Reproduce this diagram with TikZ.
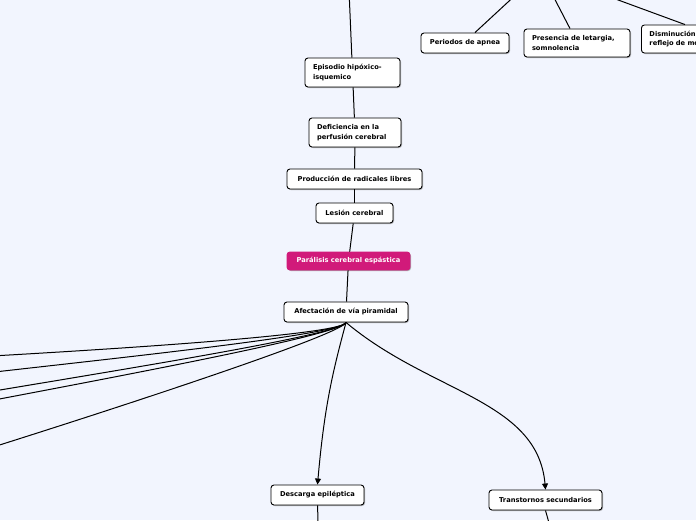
\documentclass[tikz,border=0pt]{standalone}
\usepackage{fontspec}
\setmainfont{DejaVu Sans}
\usetikzlibrary{positioning, shadows, arrows.meta}
\definecolor{fondo}{RGB}{242,245,254}
\definecolor{rosa}{RGB}{209,26,122}

\begin{document}
\begin{tikzpicture}[
  x=1pt, y=1pt,
  idea/.style={draw=black, line width=0.9pt, fill=white, rounded corners=3pt,
    font=\fontsize{6.7}{9.5}\selectfont\bfseries, align=left,
    inner xsep=8pt, inner ysep=0pt, minimum height=20pt,
    drop shadow={shadow xshift=1pt, shadow yshift=-1pt, fill=black!60, opacity=.5}},
  central/.style={idea, draw=rosa, fill=rosa, text=white, minimum height=18pt},
  rama/.style={line width=1pt},
  flecha/.style={rama, -{Triangle[length=6pt, width=6pt]}}
]
\useasboundingbox (0,0) rectangle (696,-520);
\fill[fondo] (0,0) rectangle (696,-520);
\clip (0,0) rectangle (696,-520);

% Cadena central
\node[idea, text width=79pt, minimum height=29pt] (episodio) at (352.5,-72.5) {Episodio hipóxico-\\isquemico};
\node[idea, text width=76pt, minimum height=29pt] (deficiencia) at (355,-132.5) {Deficiencia en la\\perfusión cerebral};
\node[idea, minimum width=135pt] (radicales) at (354.5,-179) {Producción de radicales libres};
\node[idea, minimum width=77pt] (lesion) at (354.5,-213) {Lesión cerebral};
\node[central, minimum width=123pt] (paralisis) at (348.5,-261) {Parálisis cerebral espástica};
\node[idea, minimum width=124pt] (afectacion) at (346,-312) {Afectación de vía piramidal};
\node[idea, minimum width=93pt] (descarga) at (317.5,-495) {Descarga epiléptica};
\node[idea, minimum width=113pt] (transtornos) at (545.5,-500) {Transtornos secundarios};

% Signos arriba a la derecha
\node[idea, minimum width=88pt] (apnea) at (465,-43) {Periodos de apnea};
\node[idea, text width=90pt, minimum height=28pt] (letargia) at (577,-43) {Presencia de letargia,\\somnolencia};
\node[idea, text width=94pt, minimum height=28pt, anchor=west] (disminucion) at (641,-39) {Disminución del\\reflejo de moro};

\coordinate (arriba) at (349,10);
\coordinate (sup1) at (521,10);
\coordinate (sup2) at (550,10);
\coordinate (sup3) at (591,10);
\coordinate (abajo1) at (318,-530);
\coordinate (abajo2) at (551,-530);

\draw[rama] (arriba) -- (episodio);
\draw[rama] (episodio) -- (deficiencia);
\draw[rama] (deficiencia) -- (radicales);
\draw[rama] (radicales) -- (lesion);
\draw[rama] (lesion) -- (paralisis);
\draw[rama] (paralisis) -- (afectacion);
\draw[rama] ([xshift=10pt]apnea.north) -- (sup1);
\draw[rama] ([xshift=-7pt]letargia.north) -- (sup2);
\draw[rama] ([xshift=44pt]disminucion.north west) -- (sup3);

% Ramas hacia la izquierda
\foreach \i/\y/\a in {1/361/3, 2/383/7, 3/407/10, 4/418/11, 5/476/17} {
  \coordinate (izq\i) at (-100,-\y);
  \draw[rama] (afectacion.south) .. controls +(250:15) and +(\a:150) .. (izq\i);
}
\draw[flecha] (afectacion.south) .. controls +(255:50) and +(85:80) .. (descarga.north);
\draw[flecha] (afectacion.south) .. controls +(-40:110) and +(95:90) .. (transtornos.north);
\draw[rama] (descarga) -- (abajo1);
\draw[rama] (transtornos.south) -- (abajo2);
\end{tikzpicture}
\end{document}
